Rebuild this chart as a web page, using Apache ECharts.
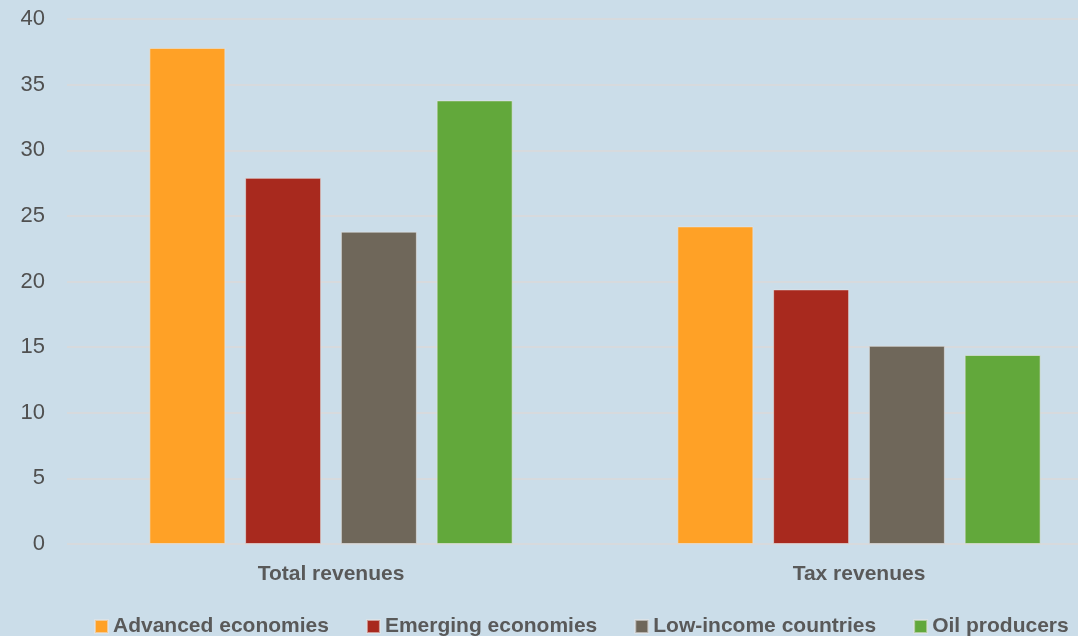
<!DOCTYPE html>
<html>
<head>
<meta charset="utf-8">
<script src="https://cdn.jsdelivr.net/npm/echarts@6/dist/echarts.min.js"></script>
<style>html,body{margin:0;padding:0;background:#cbdde9;}#c{width:1078px;height:636px;}</style>
</head>
<body>
<div id="c"></div>
<script>
const categories = ['Total revenues', 'Tax revenues'];
const seriesNames = ['Advanced economies', 'Emerging economies', 'Low-income countries', 'Oil producers'];
const advanced = [37.8, 24.2];
const emerging = [27.9, 19.4];
const lowIncome = [23.8, 15.1];
const oil = [33.8, 14.4];
const yTicks = [0, 5, 10, 15, 20, 25, 30, 35, 40];
const colors = ['#ffa126', '#a8291e', '#6f675a', '#62a83b'];

const chart = echarts.init(document.getElementById('c'));
const values = [advanced, emerging, lowIncome, oil];
chart.setOption({
  backgroundColor: '#cbdde9',
  animation: false,
  grid: { left: 67, width: 1056, top: 19, height: 525, containLabel: false, outerBoundsMode: 'none' },
  legend: {
    left: 94, top: 616, width: 1100, padding: 0,
    icon: 'rect', itemWidth: 13, itemHeight: 13, itemGap: 37,
    textStyle: { fontFamily: 'Liberation Sans', fontWeight: 'bold', fontSize: 21, color: '#595959' },
    data: seriesNames
  },
  xAxis: {
    type: 'category', data: categories,
    axisLine: { show: false }, axisTick: { show: false },
    axisLabel: { fontFamily: 'Liberation Sans', fontWeight: 'bold', fontSize: 21, color: '#595959', margin: 20 }
  },
  yAxis: {
    type: 'value', min: yTicks[0], max: yTicks[yTicks.length - 1], interval: 5,
    axisLine: { show: false }, axisTick: { show: false },
    axisLabel: { fontFamily: 'Liberation Sans', fontSize: 22, color: '#505050', margin: 22 },
    splitLine: { lineStyle: { color: '#d7dadd', width: 2 } }
  },
  series: seriesNames.map((n, i) => ({
    name: n, type: 'bar', data: values[i],
    barWidth: 76, barGap: '26%',
    itemStyle: { color: colors[i], borderColor: 'rgba(230,230,230,0.6)', borderWidth: 1 }
  }))
});
</script>
</body>
</html>
